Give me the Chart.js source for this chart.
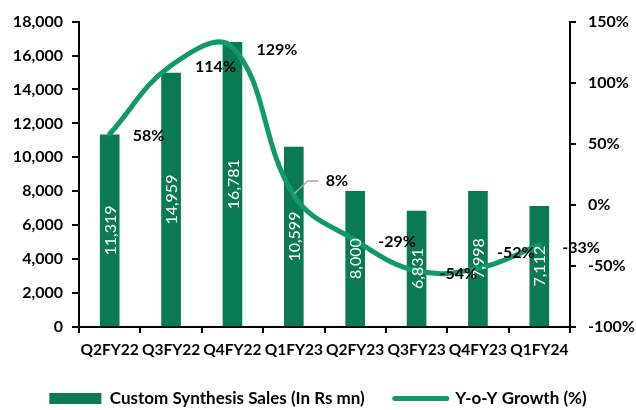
<!DOCTYPE html>
<html>
<head>
<meta charset="utf-8">
<script src="https://cdn.jsdelivr.net/npm/chart.js@4/dist/chart.umd.min.js"></script>
<style>
  body { margin: 0; background: #fff; }
  canvas { display: block; }
</style>
</head>
<body>
<canvas id="chart" width="636" height="410"></canvas>
<script>
const quarters = ["Q2FY22", "Q3FY22", "Q4FY22", "Q1FY23", "Q2FY23", "Q3FY23", "Q4FY23", "Q1FY24"];
const salesRsMn = [11319, 14959, 16781, 10599, 8000, 6831, 7998, 7112];
const yoyGrowth = [58, 114, 129, 8, -29, -54, -52, -33];

const leftTicks = [0, 2000, 4000, 6000, 8000, 10000, 12000, 14000, 16000, 18000];
const rightTicks = [-100, -50, 0, 50, 100, 150];

const BAR_GREEN = "#0a7a55";
const LINE_GREEN = "#12996b";
const FONT = "Lato, 'Liberation Sans', sans-serif";

// where each growth label sits relative to its point (dx, dy in px)
const growthLabelNudge = [[23, 2], [24, 1], [24, 3], [32, -14], [23, 2], [23, 3], [19, -16], [23, 3]];
const leaderIndex = 3; // 8% label gets a leader line

const valueLabels = {
  id: "valueLabels",
  afterDatasetsDraw(chart) {
    const ctx = chart.ctx;
    ctx.save();

    // bar values, rotated, white, centred in the bar
    const bars = chart.getDatasetMeta(0);
    ctx.fillStyle = "#fff";
    ctx.font = "16px " + FONT;
    ctx.textAlign = "center";
    ctx.textBaseline = "middle";
    bars.data.forEach((bar, i) => {
      const cy = (bar.y + bar.base) / 2;
      ctx.save();
      ctx.translate(bar.x, cy);
      ctx.rotate(-Math.PI / 2);
      ctx.fillText(salesRsMn[i].toLocaleString("en-US"), 0, 1);
      ctx.restore();
    });

    // growth values beside the line
    const line = chart.getDatasetMeta(1);
    ctx.fillStyle = "#000";
    ctx.font = "bold 16px " + FONT;
    ctx.textAlign = "left";
    line.data.forEach((pt, i) => {
      const [dx, dy] = growthLabelNudge[i];
      const lx = pt.x + dx, ly = pt.y + dy;
      if (i === leaderIndex) {
        ctx.save();
        ctx.strokeStyle = "#a6a6a6";
        ctx.lineWidth = 1.5;
        ctx.beginPath();
        ctx.moveTo(pt.x, pt.y - 1);
        ctx.lineTo(pt.x + 14, ly);
        ctx.lineTo(lx - 8, ly);
        ctx.stroke();
        ctx.restore();
      }
      ctx.fillText(yoyGrowth[i] + "%", lx, ly);
    });
    ctx.restore();
  }
};

new Chart(document.getElementById("chart").getContext("2d"), {
  type: "bar",
  data: {
    labels: quarters,
    datasets: [
      {
        type: "bar",
        label: "Custom Synthesis Sales (In Rs mn)",
        data: salesRsMn,
        backgroundColor: BAR_GREEN,
        borderWidth: 0,
        barThickness: 19,
        yAxisID: "y",
        order: 2
      },
      {
        type: "line",
        label: "Y-o-Y Growth (%)",
        data: yoyGrowth,
        borderColor: LINE_GREEN,
        backgroundColor: LINE_GREEN,
        borderWidth: 5,
        borderCapStyle: "round",
        tension: 0.4,
        pointRadius: 0,
        fill: false,
        yAxisID: "y1",
        order: 1
      }
    ]
  },
  options: {
    responsive: false,
    animation: false,
    layout: { padding: { top: 20, bottom: 0 } },
    plugins: {
      tooltip: { enabled: false },
      legend: {
        position: "bottom",
        maxHeight: 50,
        labels: {
          usePointStyle: true,
          pointStyleWidth: 52,
          boxHeight: 11,
          padding: 30,
          color: "#000",
          font: { family: FONT, size: 17, weight: "bold" },
          generateLabels(chart) {
            // keep bars first, whatever the draw order
            const items = Chart.defaults.plugins.legend.labels.generateLabels(chart)
              .sort((a, b) => a.datasetIndex - b.datasetIndex);
            items.forEach(item => {
              if (item.datasetIndex === 0) {
                item.pointStyle = "rect";
                item.lineWidth = 0;
              } else {
                item.pointStyle = "line";
                item.strokeStyle = LINE_GREEN;
                item.lineWidth = 5;
                item.lineCap = "round";
              }
            });
            return items;
          }
        }
      }
    },
    scales: {
      x: {
        grid: { display: true, drawOnChartArea: false, drawTicks: true, tickLength: 6, color: "#000", lineWidth: 2 },
        border: { display: true, color: "#000", width: 2 },
        ticks: { color: "#000", padding: 8, autoSkip: false, maxRotation: 0, font: { family: FONT, size: 15.5, weight: "bold" } },
        afterFit(scale) { scale.height = 33; }
      },
      y: {
        position: "left",
        min: 0,
        max: 18000,
        afterBuildTicks(scale) { scale.ticks = leftTicks.map(v => ({ value: v })); },
        grid: { display: true, drawOnChartArea: false, drawTicks: true, tickLength: 7, color: "#000", lineWidth: 2 },
        border: { display: true, color: "#000", width: 2 },
        ticks: {
          color: "#000",
          padding: 9,
          font: { family: FONT, size: 16, weight: "bold" },
          callback: v => v.toLocaleString("en-US")
        },
        afterFit(scale) { scale.width = 79; }
      },
      y1: {
        position: "right",
        min: -100,
        max: 150,
        afterBuildTicks(scale) { scale.ticks = rightTicks.map(v => ({ value: v })); },
        grid: { display: true, drawOnChartArea: false, drawTicks: true, tickLength: 6, color: "#000", lineWidth: 2 },
        border: { display: true, color: "#000", width: 2 },
        ticks: {
          color: "#000",
          padding: 12,
          font: { family: FONT, size: 16, weight: "bold" },
          callback: v => v + "%"
        },
        afterFit(scale) { scale.width = 66; }
      }
    }
  },
  plugins: [valueLabels]
});
</script>
</body>
</html>
